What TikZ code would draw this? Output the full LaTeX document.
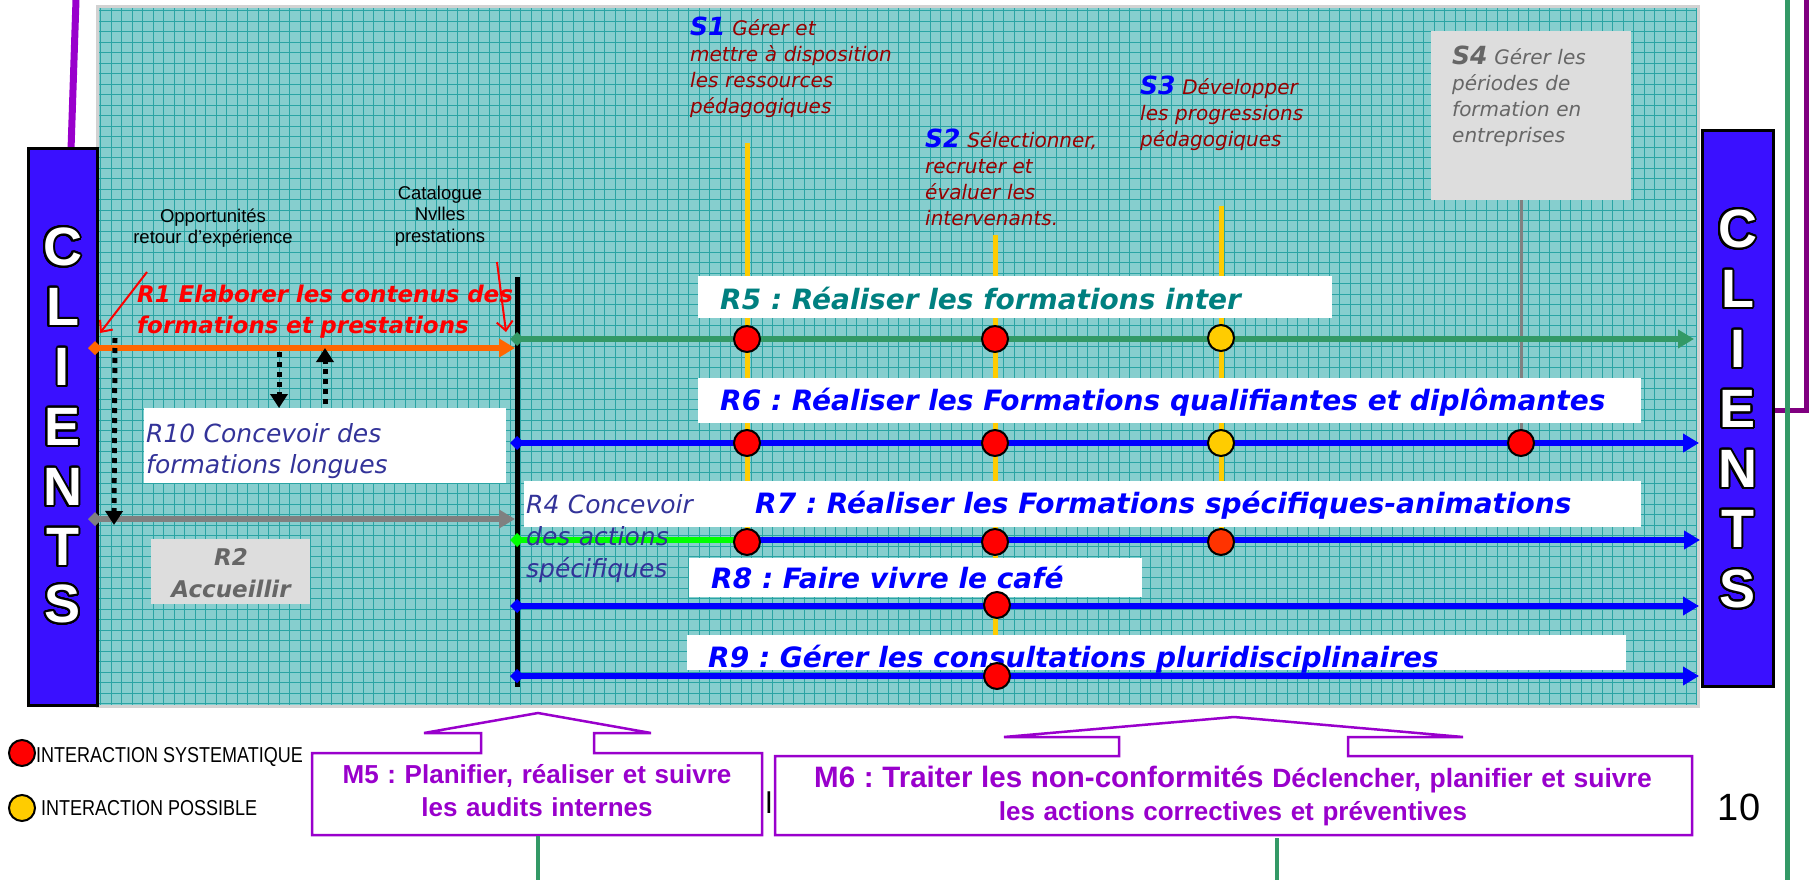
\documentclass[tikz,border=0pt]{standalone}
\usepackage{fontspec}
\setmainfont{Liberation Sans}
\newfontfamily\cs{DejaVu Sans}
\usepackage[copies]{contour}
\contourlength{2pt}
\contournumber{32}
\usetikzlibrary{arrows.meta}
\frenchspacing
\definecolor{panelc}{HTML}{86CECE}
\definecolor{gridc}{HTML}{2AA4A4}
\definecolor{clientc}{HTML}{3A10FF}
\definecolor{tealtext}{HTML}{008080}
\definecolor{darkred}{HTML}{990000}
\definecolor{navy}{HTML}{333399}
\definecolor{graytext}{HTML}{666666}
\definecolor{graybox}{HTML}{DDDDDD}
\definecolor{mpurple}{HTML}{9900CC}
\definecolor{rpurple}{HTML}{800080}
\definecolor{seagreen}{HTML}{339966}
\definecolor{lgreen}{HTML}{00FF00}
\definecolor{orangec}{HTML}{FF6600}
\definecolor{yel}{HTML}{FFCC00}
\definecolor{orred}{HTML}{FF3300}
\definecolor{lgray}{HTML}{808080}
\begin{document}
\begin{tikzpicture}[x=1pt,y=-1pt,
  every node/.style={inner sep=0pt},
  clientbox/.style={draw=black,line width=3pt,fill=clientc},
  letter/.style={font=\fontsize{54}{54}\selectfont\bfseries,text=white},
  rlab/.style={font=\cs\bfseries\itshape\fontsize{28}{32}\selectfont,anchor=base west},
  slab/.style={font=\cs\itshape\fontsize{20}{26}\selectfont,text=darkred,anchor=base west,text width=260pt,align=left},
  navylab/.style={font=\cs\itshape\fontsize{25}{31}\selectfont,text=navy,anchor=base west,text width=360pt,align=left},
  arial/.style={font=\fontsize{18.5}{21.5}\selectfont,anchor=base,align=center,text width=220pt},
  flow/.style={line width=6pt,arrows={Diamond[length=14pt,width=14pt]-Triangle[length=16pt,width=18pt]}},
  vline/.style={line width=5pt,draw=yel},
  sysdot/.style={circle,draw=black,line width=2pt,fill=red,minimum size=26pt},
  posdot/.style={sysdot,fill=yel},
  dotarrow/.style={line width=5pt,dash pattern=on 5pt off 5pt,arrows={-Triangle[length=14pt,width=17pt]}},
  redarrow/.style={line width=2pt,draw=red,arrows={-Straight Barb[length=9pt,width=16pt]}},
  callout/.style={draw=mpurple,line width=2.5pt,fill=white},
  mtext/.style={font=\bfseries\fontsize{26}{33}\selectfont,text=mpurple,anchor=base,align=center},
  legtext/.style={font=\fontsize{18}{20}\selectfont,anchor=base west}
]
\useasboundingbox (0,0) rectangle (1820,880);

% ---- outer lines
\coordinate (pur1) at (1806,0);
\coordinate (pur2) at (1806,410);
\coordinate (pur3) at (1773,410);
\draw[line width=5pt,draw=rpurple] (pur1) -- (pur2) -- (pur3);
\coordinate (grn1) at (1787,0);
\coordinate (grn2) at (1787,880);
\draw[line width=5pt,draw=seagreen] (grn1) -- (grn2);
\coordinate (lp1) at (76,0);
\coordinate (lp2) at (71,150);
\draw[line width=7pt,draw=mpurple] (lp1) -- (lp2);

% ---- panel
\fill[panelc] (97,7) rectangle (1698,706);
\foreach \gx in {100.5,111,...,1698} \draw[gridc,line width=0.6pt] (\gx,7) -- (\gx,706);
\foreach \gy in {10.5,21,...,706} \draw[gridc,line width=0.6pt] (97,\gy) -- (1698,\gy);
\draw[gray!35,line width=3pt] (97,7) rectangle (1698,706);

% ---- clients boxes
\draw[clientbox] (28,149) rectangle (97,705);
\draw[clientbox] (1702,131) rectangle (1773,686);
\foreach \l/\yy [count=\i] in {C/248,L/308,I/368,E/428,N/488,T/548,S/605}
  \node[letter] (lc\i) at (62.5,\yy) {\contour{black}{\l}};
\foreach \l/\yy [count=\i] in {C/230,L/290,I/350,E/410,N/470,T/530,S/590}
  \node[letter] (rc\i) at (1737.5,\yy) {\contour{black}{\l}};

% ---- support vertical lines
\coordinate (s1top) at (747,143);
\coordinate (s2top) at (995,235);
\coordinate (s3top) at (1221,206);
\coordinate (s4top) at (1521,200);
\draw[vline] (s1top) -- (747,540);
\draw[vline] (s2top) -- (995,676);
\draw[vline] (s3top) -- (1221,540);
\draw[line width=3pt,draw=lgray] (s4top) -- (1521,443);

% ---- boxes
\fill[white] (698,276) rectangle (1332,318);
\fill[white] (698,378) rectangle (1641,423);
\fill[white] (524,481) rectangle (1641,527);
\fill[white] (689,558) rectangle (1142,597);
\fill[white] (687,635) rectangle (1626,670);
\fill[white] (144,408) rectangle (506,483);
\fill[graybox] (151,539) rectangle (310,604);
\fill[graybox] (1431,31) rectangle (1631,200);

% ---- black bar
\coordinate (bartop) at (517,277);
\coordinate (barbot) at (517,687);
\draw[line width=5pt] (bartop) -- (barbot);

% ---- flows
\coordinate (r1a) at (88,348);   \coordinate (r1b) at (515,348);
\coordinate (r2a) at (88,519);   \coordinate (r2b) at (515,519);
\coordinate (r5a) at (510,339);  \coordinate (r5b) at (1694,339);
\coordinate (r6a) at (510,443);  \coordinate (r6b) at (1699,443);
\coordinate (r7a) at (510,540);  \coordinate (r7m) at (750,540); \coordinate (r7b) at (1700,540);
\coordinate (r8a) at (510,606);  \coordinate (r8b) at (1699,606);
\coordinate (r9a) at (510,676);  \coordinate (r9b) at (1699,676);
\draw[flow,draw=orangec] (r1a) -- (r1b);
\draw[flow,draw=lgray] (r2a) -- (r2b);
\draw[flow,draw=seagreen] (r5a) -- (r5b);
\draw[flow,draw=blue] (r6a) -- (r6b);
\draw[line width=6pt,draw=lgreen,arrows={Diamond[length=14pt,width=14pt]-}] (r7a) -- (r7m);
\draw[line width=6pt,draw=blue,arrows={-Triangle[length=16pt,width=18pt]}] (745,540) -- (r7b);
\draw[flow,draw=blue] (r8a) -- (r8b);
\draw[flow,draw=blue] (r9a) -- (r9b);

% ---- dotted arrows
\coordinate (da1) at (115,338); \coordinate (da2) at (114,525);
\coordinate (db1) at (279,352); \coordinate (db2) at (279,408);
\coordinate (dc1) at (325,404); \coordinate (dc2) at (325,348);
\draw[dotarrow] (da1) -- (da2);
\draw[dotarrow] (db1) -- (db2);
\draw[dotarrow] (dc1) -- (dc2);

% ---- texts
\node[arial] (opp) at (213,222) {Opportunités\\retour d’expérience};
\node[arial] (cat) at (440,199) {Catalogue\\Nvlles\\prestations};
\node[font=\cs\bfseries\itshape\fontsize{23}{31}\selectfont,text=red,anchor=base west,text width=400pt,align=left] (r1) at (137,302) {R1 Elaborer les contenus des\\formations et prestations};
\coordinate (ra1) at (147,272); \coordinate (ra2) at (100,333);
\coordinate (rb1) at (497,262); \coordinate (rb2) at (506,332);
\draw[redarrow] (ra1) -- (ra2);
\draw[redarrow] (rb1) -- (rb2);

\node[navylab] (r10) at (146,442) {R10 Concevoir des\\formations longues};
\node[font=\cs\bfseries\itshape\fontsize{23}{32}\selectfont,text=graytext,anchor=base,text width=160pt,align=center] (r2) at (231,565) {R2\\Accueillir};
\node[navylab,text width=200pt,font=\cs\itshape\fontsize{25}{32}\selectfont] (r4) at (526,513) {R4 Concevoir\\des actions\\spécifiques};

\node[rlab,text=tealtext] (r5) at (720,309) {R5 : Réaliser les formations inter};
\node[rlab,text=blue] (r6) at (720,410) {R6 : Réaliser les Formations qualifiantes et diplômantes};
\node[rlab,text=blue] (r7) at (755,513) {R7 : Réaliser les Formations spécifiques-animations};
\node[rlab,text=blue] (r8) at (711,588) {R8 : Faire vivre le café};
\node[rlab,text=blue] (r9) at (708,667) {R9 : Gérer les consultations pluridisciplinaires};

\node[slab] (s1) at (690,36) {{\color{blue}\bfseries\fontsize{25}{26}\selectfont S1} Gérer et\\mettre à disposition\\les ressources\\pédagogiques};
\node[slab] (s2) at (925,147) {{\color{blue}\bfseries\fontsize{25}{26}\selectfont S2} Sélectionner,\\recruter et\\évaluer les\\intervenants.};
\node[slab] (s3) at (1140,95) {{\color{blue}\bfseries\fontsize{25}{26}\selectfont S3} Développer\\les progressions\\pédagogiques};
\node[slab,text=graytext] (s4) at (1452,65) {{\bfseries\fontsize{25}{26}\selectfont S4} Gérer les\\périodes de\\formation en\\entreprises};

% ---- interaction dots
\node[sysdot] (d51) at (747,339) {};
\node[sysdot] (d52) at (995,339) {};
\node[posdot] (d53) at (1221,338) {};
\node[sysdot] (d61) at (747,443) {};
\node[sysdot] (d62) at (995,443) {};
\node[posdot] (d63) at (1221,443) {};
\node[sysdot] (d64) at (1521,443) {};
\node[sysdot] (d71) at (747,542) {};
\node[sysdot] (d72) at (995,542) {};
\node[sysdot,fill=orred] (d73) at (1221,542) {};
\node[sysdot] (d82) at (997,605) {};
\node[sysdot] (d92) at (997,676) {};

% ---- bottom
\node[font=\fontsize{30}{30}\selectfont,anchor=base] (hid) at (769,813) {l};
\draw[callout] (312,753) -- (481,753) -- (481,733) -- (424,733) -- (538,713) -- (651,733) -- (594,733) -- (594,753) -- (762,753) -- (762,835) -- (312,835) -- cycle;
\draw[callout] (775,756) -- (1119,756) -- (1119,737) -- (1004,737) -- (1234,717) -- (1463,737) -- (1348,737) -- (1348,756) -- (1692,756) -- (1692,835) -- (775,835) -- cycle;
\node[mtext,text width=440pt] (m5) at (537,783) {M5 : Planifier, réaliser et suivre\\les audits internes};
\node[mtext,text width=910pt] (m6) at (1233,787) {{\fontsize{29.5}{33}\selectfont M6 : Traiter les non-conformités} {\fontsize{26.5}{33}\selectfont Déclencher, planifier et suivre}\\les actions correctives et préventives};
\coordinate (m5b) at (538,836); \coordinate (m5c) at (538,880);
\coordinate (m6b) at (1277,838); \coordinate (m6c) at (1277,880);
\draw[line width=4pt,draw=seagreen] (m5b) -- (m5c);
\draw[line width=4pt,draw=seagreen] (m6b) -- (m6c);

\node[sysdot,minimum size=26pt] (leg1) at (22,753) {};
\node[posdot,minimum size=26pt] (leg2) at (22,808) {};
\node[legtext] (legt1) at (36,762) {\scalebox{1}[1.2]{INTERACTION SYSTEMATIQUE}};
\node[legtext] (legt2) at (41,815) {\scalebox{1}[1.2]{INTERACTION POSSIBLE}};
\node[font=\fontsize{38}{38}\selectfont] (pg) at (1739,807) {10};
\end{tikzpicture}
\end{document}
